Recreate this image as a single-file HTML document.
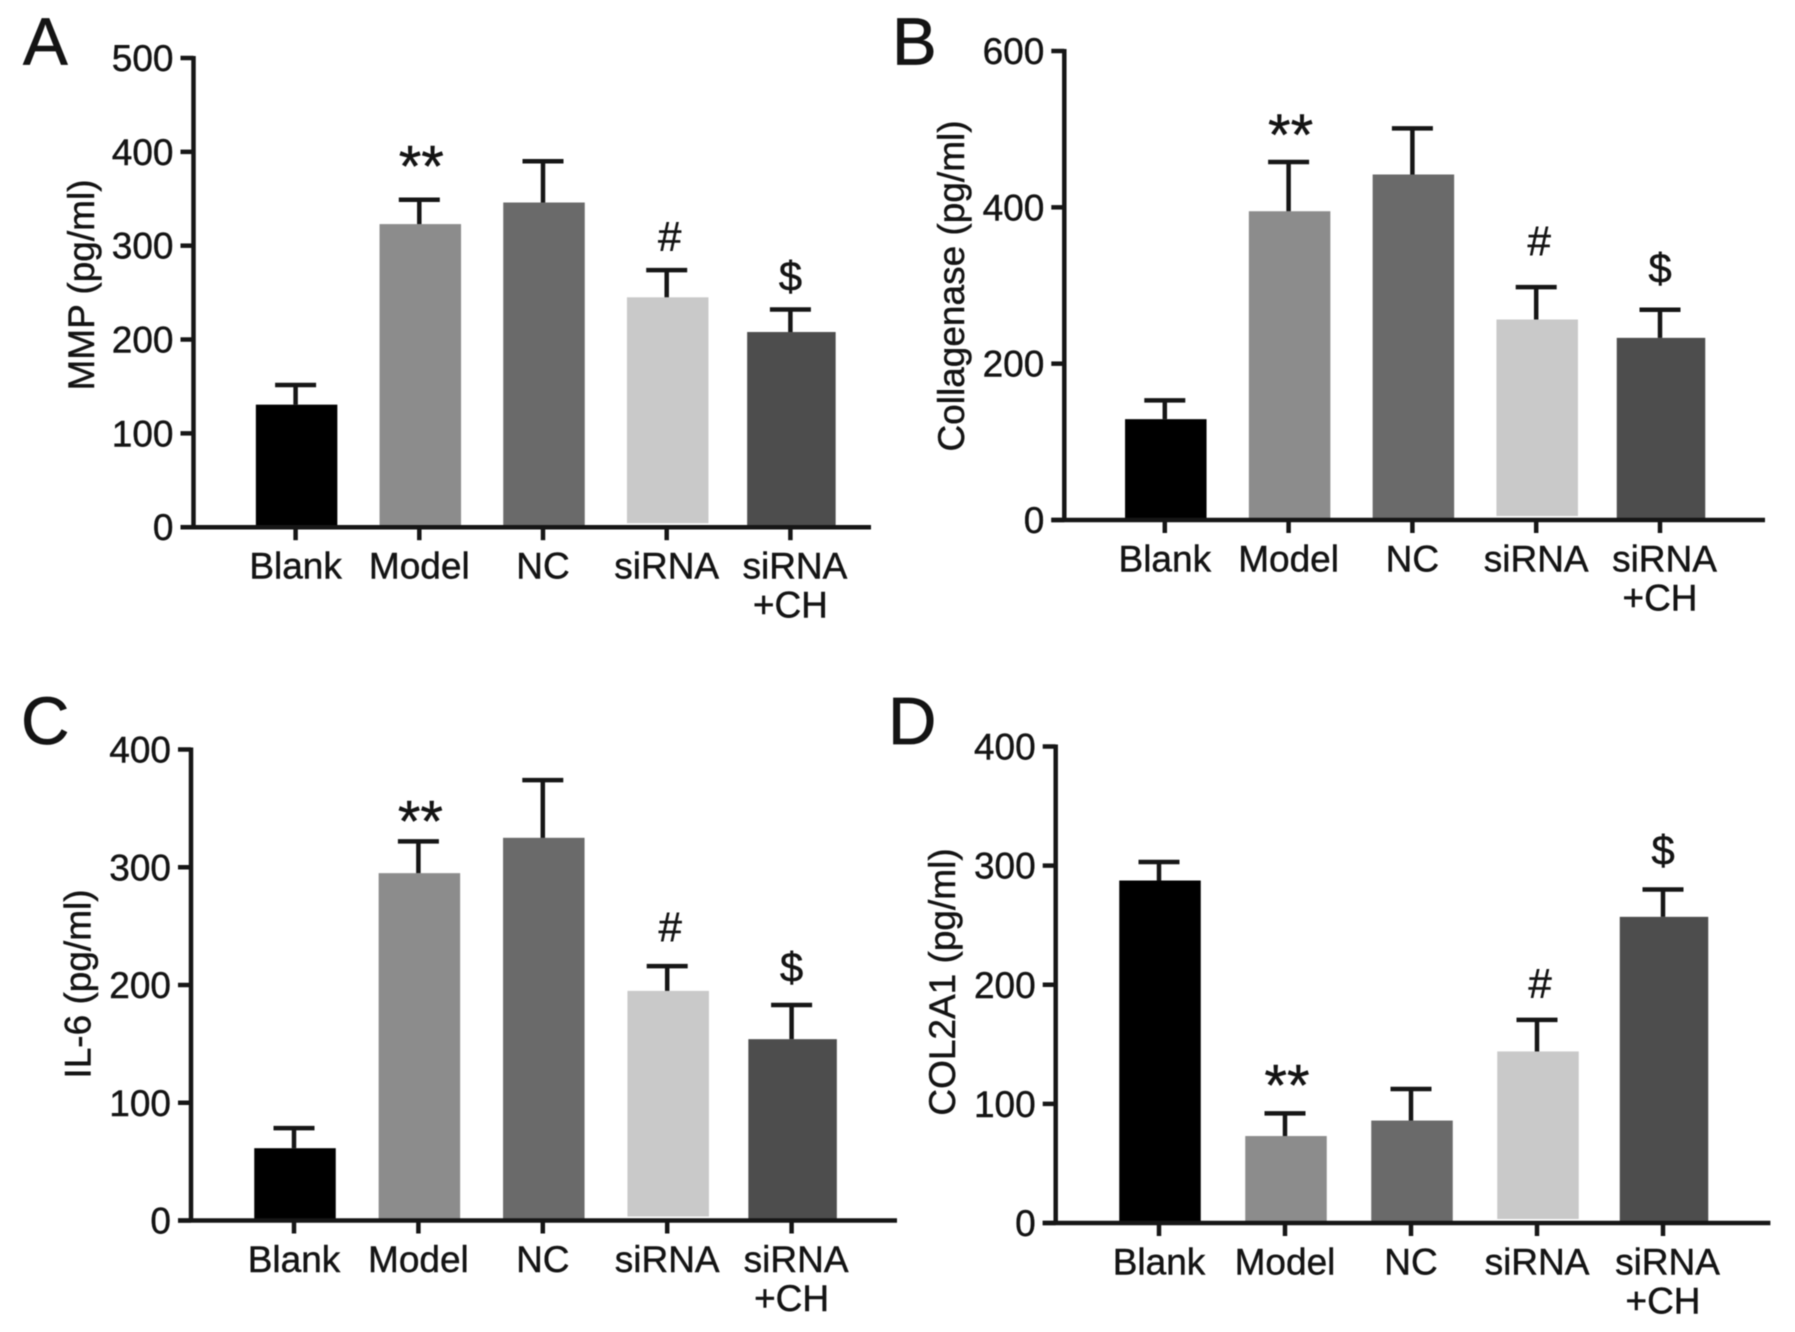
<!DOCTYPE html>
<html lang="en">
<head>
<meta charset="utf-8">
<title>Bar charts of MMP, Collagenase, IL-6 and COL2A1</title>
<style>
  html, body { margin: 0; padding: 0; background: #ffffff; }
  #figure { display: block; filter: blur(0.6px); }
  text { font-family: "Liberation Sans", Arial, sans-serif; fill: #141414; stroke: #141414; stroke-width: 0.45px; }
</style>
</head>
<body>
<svg id="figure" xmlns="http://www.w3.org/2000/svg" width="1795" height="1332" viewBox="0 0 1795 1332"></svg>
<script>
// ----- chart data -----
const categories = ['Blank', 'Model', 'NC', 'siRNA', 'siRNA\n+CH'];

const ticksA = [0, 100, 200, 300, 400, 500];
const meansA = [130.6, 323, 346, 245, 208];
const errorsA = [21, 26, 44, 29, 24];
const marksA = ['', '**', '', '#', '$'];
const markLevelsA = [0, 394, 0, 307, 265];

const ticksB = [0, 200, 400, 600];
const meansB = [129, 395, 442, 256.5, 233];
const errorsB = [24, 63, 59, 41.5, 36];
const marksB = ['', '**', '', '#', '$'];
const markLevelsB = [0, 504, 0, 354, 319];

const ticksC = [0, 100, 200, 300, 400];
const meansC = [61.4, 295, 325, 195, 154];
const errorsC = [17, 27, 49, 21, 29];
const marksC = ['', '**', '', '#', '$'];
const markLevelsC = [0, 346.5, 0, 247, 213];

const ticksD = [0, 100, 200, 300, 400];
const meansD = [287.5, 73, 86, 144, 257];
const errorsD = [15.5, 19, 26.5, 26.5, 23];
const marksD = ['', '**', '', '#', '$'];
const markLevelsD = [0, 123, 0, 199, 311];

// ----- layout and styling -----
const barFills = ['#000000', '#8c8c8c', '#6a6a6a', '#c9c9c9', '#4d4d4d'];
const barWidths = [81.5, 81.5, 81.5, 81.5, 88.5];
const barBottomGaps = [0, 1.5, 0, 4, 0];
const markFontSizes = { '**': 58, '#': 42, '$': 42 };
const markBaselineShift = { '**': 29, '#': 12, '$': 12 };
const markXShift = { '**': 2, '#': 3, '$': 0 };
const LABEL_FONT = 37;
const TITLE_FONT = 37;

const panels = [
  { id: 'a', letter: 'A', letterX: 23, letterY: 64.5, title: 'MMP (pg/ml)', titleX: 94, titleY: 285,
    axisX: 193.5, top: 58, base: 527.2, right: 871, first: 295.6, step: 123.7,
    ticks: ticksA, means: meansA, errors: errorsA, marks: marksA, levels: markLevelsA },
  { id: 'b', letter: 'B', letterX: 892, letterY: 64.5, title: 'Collagenase (pg/ml)', titleX: 964, titleY: 286,
    axisX: 1064.3, top: 51, base: 520, right: 1765, first: 1164.8, step: 123.8,
    ticks: ticksB, means: meansB, errors: errorsB, marks: marksB, levels: markLevelsB },
  { id: 'c', letter: 'C', letterX: 21, letterY: 744, title: 'IL-6 (pg/ml)', titleX: 90.7, titleY: 984,
    axisX: 191, top: 749.5, base: 1220.5, right: 897, first: 294, step: 124.4,
    ticks: ticksC, means: meansC, errors: errorsC, marks: marksC, levels: markLevelsC },
  { id: 'd', letter: 'D', letterX: 888, letterY: 744, title: 'COL2A1 (pg/ml)', titleX: 955, titleY: 982,
    axisX: 1055.7, top: 746.5, base: 1223, right: 1770.4, first: 1159, step: 126,
    ticks: ticksD, means: meansD, errors: errorsD, marks: marksD, levels: markLevelsD }
];

const AXIS_COLOR = '#161616';
const NS = 'http://www.w3.org/2000/svg';
const root = document.getElementById('figure');

function add(parent, tag, attrs, content) {
  const el = document.createElementNS(NS, tag);
  Object.keys(attrs).forEach(function (k) { el.setAttribute(k, attrs[k]); });
  if (content !== undefined) el.textContent = content;
  parent.appendChild(el);
  return el;
}

function line(parent, x1, y1, x2, y2, w) {
  return add(parent, 'line', { x1: x1, y1: y1, x2: x2, y2: y2, stroke: AXIS_COLOR, 'stroke-width': w });
}

panels.forEach(function (p) {
  const maxTick = p.ticks[p.ticks.length - 1];
  const yScale = function (v) { return p.base - v * (p.base - p.top) / maxTick; };
  const xScale = function (i) { return p.first + i * p.step; };

  const g = add(root, 'g', {});
  
  

  const letter = add(g, 'text', { x: p.letterX, y: p.letterY, 'font-size': 67, style: 'stroke-width:0.7px' }, p.letter);
  
  

  const title = add(g, 'text', {
    x: 0, y: 0, 'font-size': TITLE_FONT, 'text-anchor': 'middle',
    transform: 'translate(' + p.titleX + ' ' + p.titleY + ') rotate(-90)'
  }, p.title);
  
  

  // bars
  categories.forEach(function (cat, i) {
    const cx = xScale(i) + 1;
    const w = barWidths[i];
    const yTop = yScale(p.means[i]);
    const bar = add(g, 'rect', {
      x: cx - w / 2, y: yTop, width: w, height: p.base - yTop - barBottomGaps[i], fill: barFills[i]
    });
    
    
  });

  // error bars
  categories.forEach(function (cat, i) {
    const cx = xScale(i);
    const yMean = yScale(p.means[i]);
    const yErr = yScale(p.means[i] + p.errors[i]);
    const eg = add(g, 'g', {});
    
    
    line(eg, cx, yMean, cx, yErr, 4.5);
    line(eg, cx - 20.5, yErr, cx + 20.5, yErr, 4.5);
  });

  // significance marks
  p.marks.forEach(function (m, i) {
    if (!m) return;
    const mark = add(g, 'text', {
      x: xScale(i) + markXShift[m],
      y: yScale(p.levels[i]) + markBaselineShift[m],
      'font-size': markFontSizes[m],
      'text-anchor': 'middle'
    }, m);
    
    
  });

  // y axis
  const yAxis = line(g, p.axisX, p.top - 2, p.axisX, p.base + 2, 4.5);
  
  

  p.ticks.forEach(function (t) {
    const y = yScale(t);
    const tick = line(g, p.axisX - 13, y, p.axisX, y, 4.5);
    
    
    const label = add(g, 'text', {
      x: p.axisX - 20, y: y + 13, 'font-size': LABEL_FONT, 'text-anchor': 'end'
    }, String(t));
    
    
  });

  // x axis
  const xAxis = line(g, p.axisX - 13, p.base, p.right, p.base, 4.5);
  
  

  categories.forEach(function (cat, i) {
    const cx = xScale(i);
    const tick = line(g, cx, p.base, cx, p.base + 13, 4.5);
    
    
    cat.split('\n').forEach(function (part, row) {
      const shift = (cat.indexOf('\n') >= 0 && row === 0) ? 4.5 : 0;
      const label = add(g, 'text', {
        x: cx + shift, y: p.base + 51.5 + row * 39, 'font-size': LABEL_FONT, 'text-anchor': 'middle'
      }, part);
      
      
    });
  });
});
</script>
</body>
</html>
